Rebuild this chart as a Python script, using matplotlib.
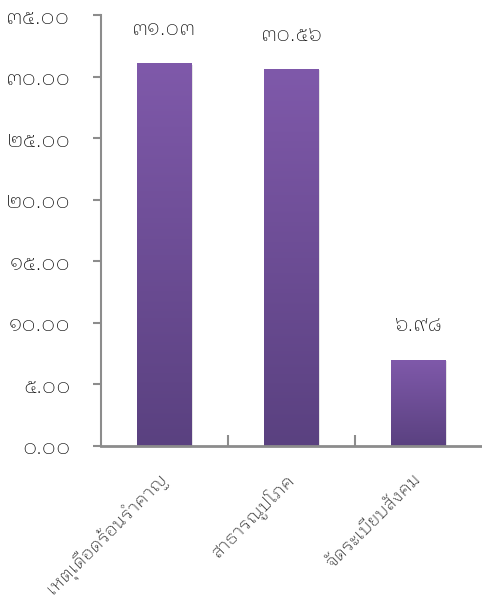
import matplotlib
matplotlib.use("Agg")
import matplotlib.pyplot as plt
import numpy as np
from matplotlib.colors import LinearSegmentedColormap

categories = ["เหตุเดือดร้อนรำคาญ", "สาธารณูปโภค", "จัดระเบียบสังคม"]
values = [31.03, 30.56, 6.98]
value_labels = ["๓๑.๐๓", "๓๐.๕๖", "๖.๙๘"]
ytick_values = [0, 5, 10, 15, 20, 25, 30, 35]
ytick_labels = ["๐.๐๐", "๕.๐๐", "๑๐.๐๐", "๑๕.๐๐", "๒๐.๐๐", "๒๕.๐๐", "๓๐.๐๐", "๓๕.๐๐"]

plt.rcParams['font.family'] = ['IBM Plex Sans Thai Looped', 'Loma', 'DejaVu Sans']
plt.rcParams['font.weight'] = 'light'

fig = plt.figure(figsize=(4.82, 6.07), dpi=100)
ax = fig.add_axes([101/482, 1-446/607, (482-101)/482, (446-15)/607])

x = np.arange(len(categories))
width = 0.43
bars = ax.bar(x, values, width=width, color='none', edgecolor='none', zorder=2)

cmap = LinearSegmentedColormap.from_list("pg", ["#5A4180", "#7F59AA"])
grad = np.linspace(0, 1, 256).reshape(-1, 1)
for b in bars:
    x0, y0 = b.get_x(), b.get_y()
    w, h = b.get_width(), b.get_height()
    ax.add_patch(plt.Rectangle((x0 + 0.012, y0), w, h - 0.05, color='#000000', alpha=0.10, zorder=1, lw=0))
    ax.imshow(grad, cmap=cmap, extent=(x0, x0 + w, y0, y0 + h), origin='lower',
              aspect='auto', zorder=3, interpolation='bicubic')

for xi, v, lab in zip(x, values, value_labels):
    ax.annotate(lab, (xi, v), xytext=(0, 18), textcoords='offset points',
                ha='center', va='bottom', fontsize=15, color='#000000')

ax.set_xlim(-0.5, len(categories) - 0.5)
ax.set_ylim(0, 35)
ax.set_yticks(ytick_values)
ax.set_yticklabels(ytick_labels, fontsize=15.5, color='#000000')
ax.set_xticks(x)
ax.set_xticklabels(categories, rotation=45, ha='right', va='center', rotation_mode='anchor',
                   fontsize=13, color='#000000')
ax.tick_params(axis='x', which='major', length=0, pad=22)
ax.set_xticks([0.5, 1.5], minor=True)
ax.tick_params(axis='x', which='minor', direction='in', length=8, width=1.5, color='#8c8c8c')
ax.tick_params(axis='y', direction='out', length=6, width=1.5, color='#8c8c8c', pad=16)

for s in ['top', 'right']:
    ax.spines[s].set_visible(False)
ax.spines['left'].set_color('#8c8c8c')
ax.spines['left'].set_linewidth(1.5)
ax.spines['bottom'].set_color('#8c8c8c')
ax.spines['bottom'].set_linewidth(2)
ax.spines['bottom'].set_zorder(5)

fig.savefig("out.png", dpi=100)
